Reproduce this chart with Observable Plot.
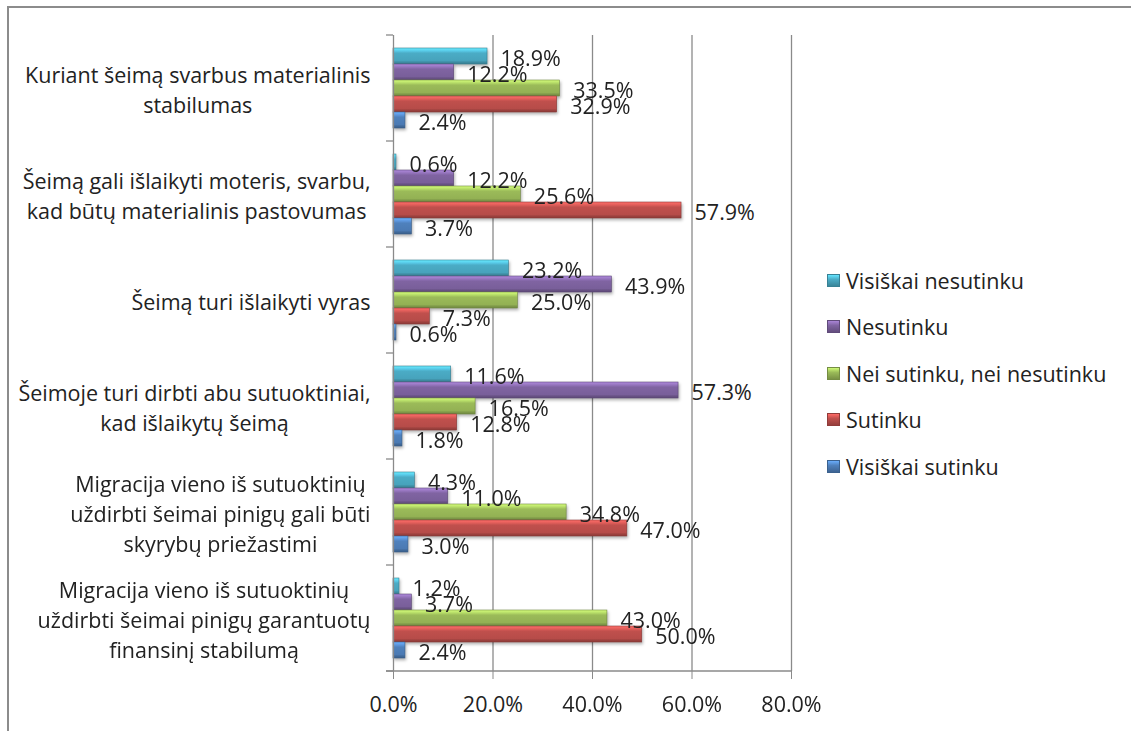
<!DOCTYPE html>
<html><head><meta charset="utf-8">
<script src="https://cdn.jsdelivr.net/npm/d3@7"></script>
<script src="https://cdn.jsdelivr.net/npm/@observablehq/plot@0.6"></script>
<style>
body{margin:0;background:#fff;font-family:"Open Sans",sans-serif;}
#wrap{position:relative;width:1131px;height:731px;overflow:hidden;background:#fff;}
#border{position:absolute;left:7px;top:6px;width:1200px;height:800px;border-top:2px solid #8c8c8c;border-left:2px solid #8c8c8c;}
#chart{position:absolute;left:0;top:0;}
#legend{position:absolute;left:827px;top:257px;}
.item{display:flex;align-items:center;height:46.5px;font-size:21.5px;color:#222;white-space:nowrap;}
.sw{width:13px;height:13px;margin-right:6px;box-sizing:border-box;flex:none;}
</style></head>
<body><div id="wrap"><div id="border"></div><div id="chart"></div><div id="legend"></div></div>
<script>
const categories = [
  "Kuriant šeimą svarbus materialinis\nstabilumas",
  "Šeimą gali išlaikyti moteris, svarbu,\nkad būtų materialinis pastovumas",
  "Šeimą turi išlaikyti vyras",
  "Šeimoje turi dirbti abu sutuoktiniai,\nkad išlaikytų šeimą",
  "Migracija vieno iš sutuoktinių\nuždirbti šeimai pinigų gali būti\nskyrybų priežastimi",
  "Migracija vieno iš sutuoktinių\nuždirbti šeimai pinigų garantuotų\nfinansinį stabilumą"
];
const series = ["Visiškai nesutinku", "Nesutinku", "Nei sutinku, nei nesutinku", "Sutinku", "Visiškai sutinku"];
const colors = ["#4BACC6", "#8064A2", "#9BBB59", "#C0504D", "#4F81BD"];
const visiskaiNesutinku = [18.9, 0.6, 23.2, 11.6, 4.3, 1.2];
const nesutinku = [12.2, 12.2, 43.9, 57.3, 11.0, 3.7];
const neiSutinku = [33.5, 25.6, 25.0, 16.5, 34.8, 43.0];
const sutinku = [32.9, 57.9, 7.3, 12.8, 47.0, 50.0];
const visiskaiSutinku = [2.4, 3.7, 0.6, 1.8, 3.0, 2.4];
const xTicks = [0, 20, 40, 60, 80];

const seriesValues = [visiskaiNesutinku, nesutinku, neiSutinku, sutinku, visiskaiSutinku];
const rows = categories.flatMap((c, i) => series.map((s, j) => ({category: c, series: s, si: j, value: seriesValues[j][i]})));

const FS = 21.5;
const FONT = '"Open Sans", sans-serif';
const ctx = document.createElement("canvas").getContext("2d");
ctx.font = `${FS}px "Open Sans"`;
const labelWidths = categories.map(c => Math.max(...c.split("\n").map(l => ctx.measureText(l).width)));
const gap = 23;
const fmt = d => d.toFixed(1) + "%";

const plot = Plot.plot({
  width: 1131, height: 731,
  marginLeft: 393, marginRight: 340, marginTop: 35, marginBottom: 60,
  style: {fontFamily: FONT, fontSize: FS + "px", color: "#222", background: "transparent", overflow: "visible"},
  x: {domain: [0, 80]},
  y: {domain: series, axis: null, paddingInner: 0, paddingOuter: 0.71},
  fy: {domain: categories, axis: null, padding: 0},
  color: {type: "identity"},
  marks: [
    Plot.gridX(xTicks.slice(1), {stroke: "#8a8a8a", strokeOpacity: 1, strokeWidth: 1.3}),
    Plot.barX(rows, {fy: "category", y: "series", x: "value", fill: d => `url(#grad${d.si})`, stroke: d => d3.color(colors[d.si]).darker(0.9).formatHex(), strokeWidth: 0.6}),
    Plot.text(rows, {fy: "category", y: "series", x: "value", text: d => fmt(d.value), dx: 13, dy: 3, textAnchor: "start", fill: "#222", fontSize: FS}),
    ...categories.map((c, i) => Plot.text([c], {fy: d => d, text: d => d, frameAnchor: "left", textAnchor: "middle", dx: -(gap + labelWidths[i] / 2), lineHeight: 1.4, fill: "#222", fontSize: FS})),
    Plot.ruleX([0], {stroke: "#8a8a8a", strokeWidth: 1.3}),
    Plot.axisX({ticks: xTicks, tickFormat: fmt, tickSize: 8, tickPadding: 17, stroke: "#8a8a8a", fill: "#222", fontSize: FS, label: null})
  ]
});

const svg = d3.select(plot);
const defs = svg.insert("defs", ":first-child");
colors.forEach((c, i) => {
  const base = d3.color(c);
  const g = defs.append("linearGradient").attr("id", `grad${i}`).attr("x1", 0).attr("y1", 0).attr("x2", 0).attr("y2", 1);
  [[0, base.brighter(0.9)], [0.18, base.brighter(0.45)], [0.32, base], [0.78, base.darker(0.15)], [0.88, base.darker(0.55)], [1, base.darker(0.9)]]
    .forEach(([o, col]) => g.append("stop").attr("offset", o).attr("stop-color", col.formatHex()));
});
svg.selectAll("g[aria-label=bar]").style("filter", "drop-shadow(1px 2px 1.5px rgba(0,0,0,0.3))");

// axis line along the bottom and category boundary ticks on the y axis
const fy = plot.scale("fy"), x = plot.scale("x");
const x0 = x.apply(0), xEnd = x.apply(80);
const bounds = categories.map(c => fy.apply(c));
bounds.push(fy.apply(categories[categories.length - 1]) + fy.bandwidth);
const ax = svg.append("g").attr("stroke", "#8a8a8a").attr("stroke-width", 1.3);
bounds.forEach(b => ax.append("line").attr("x1", x0 - 7).attr("x2", x0).attr("y1", b).attr("y2", b));
const yb = bounds[bounds.length - 1];
ax.append("line").attr("x1", x0 - 7).attr("x2", xEnd).attr("y1", yb).attr("y2", yb);

document.getElementById("chart").appendChild(plot);

// legend
const legend = d3.select("#legend");
series.forEach((s, i) => {
  const base = d3.color(colors[i]);
  const it = legend.append("div").attr("class", "item");
  it.append("div").attr("class", "sw")
    .style("background", `linear-gradient(${base.brighter(0.8).formatHex()}, ${base.formatHex()} 40%, ${base.darker(0.7).formatHex()})`)
    .style("border", `1px solid ${base.darker(0.8).formatHex()}`);
  it.append("span").text(s);
});
</script>
</body></html>
